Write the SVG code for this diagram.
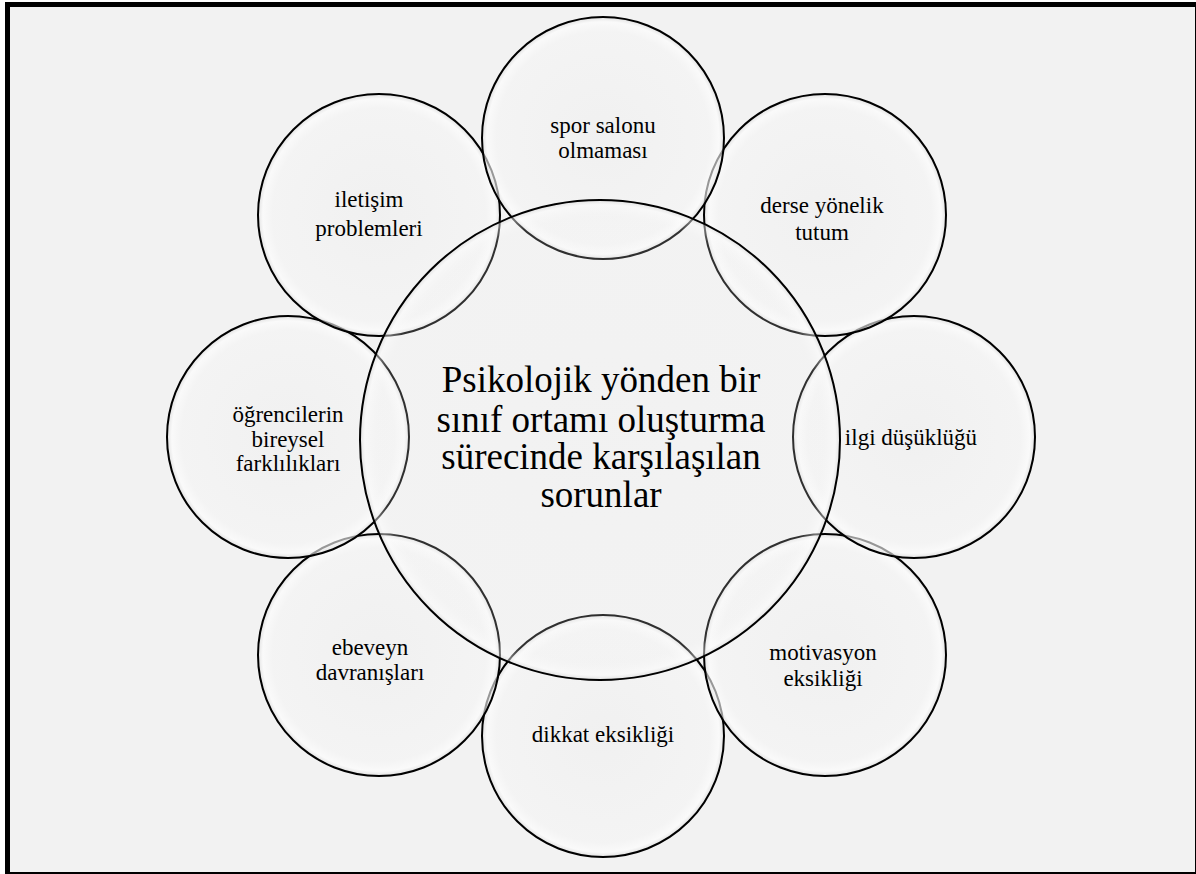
<svg xmlns="http://www.w3.org/2000/svg" width="1196" height="874" viewBox="0 0 1196 874">
<defs>
<radialGradient id="g">
<stop offset="0" stop-color="#efefef" stop-opacity="0.55"/>
<stop offset="0.88" stop-color="#f5f5f5" stop-opacity="0.55"/>
<stop offset="0.96" stop-color="#ffffff" stop-opacity="0.6"/>
<stop offset="0.99" stop-color="#e2e2e2" stop-opacity="0.65"/>
<stop offset="1" stop-color="#c8c8c8" stop-opacity="0.65"/>
</radialGradient>
<radialGradient id="gc">
<stop offset="0" stop-color="#f0f0f0" stop-opacity="0.15"/>
<stop offset="0.93" stop-color="#f5f5f5" stop-opacity="0.2"/>
<stop offset="0.98" stop-color="#ffffff" stop-opacity="0.45"/>
<stop offset="0.995" stop-color="#dddddd" stop-opacity="0.5"/>
<stop offset="1" stop-color="#c8c8c8" stop-opacity="0.5"/>
</radialGradient>
<style>
.c{fill:url(#g);stroke:#000;stroke-width:2}
.cc{fill:url(#gc);stroke:#000;stroke-width:2}
.t{font-family:"Liberation Serif","Times New Roman",serif;font-size:23px;fill:#000;text-anchor:middle}
.m{font-family:"Liberation Serif","Times New Roman",serif;font-size:37px;fill:#000;text-anchor:middle}
</style>
</defs>
<rect x="7.5" y="4.5" width="1190" height="870" fill="#f2f2f2" stroke="#000" stroke-width="5"/>
<g id="n-dikkat"><circle class="c" cx="603" cy="736" r="121"/><text class="t" x="603" y="742">dikkat eksikliği</text></g>
<g id="n-ebeveyn"><circle class="c" cx="379" cy="655" r="121"/><text class="t" x="370" y="655">ebeveyn</text><text class="t" x="370" y="680">davranışları</text></g>
<g id="n-motivasyon"><circle class="c" cx="825" cy="655" r="121"/><text class="t" x="823" y="660">motivasyon</text><text class="t" x="823" y="686">eksikliği</text></g>
<g id="n-ogrenciler"><circle class="c" cx="288" cy="437" r="121"/><text class="t" x="288" y="422">öğrencilerin</text><text class="t" x="288" y="447">bireysel</text><text class="t" x="288" y="471">farklılıkları</text></g>
<g id="n-ilgi"><circle class="c" cx="914" cy="437" r="121"/><text class="t" x="911" y="445">ilgi düşüklüğü</text></g>
<g id="n-iletisim"><circle class="c" cx="379" cy="215" r="121"/><text class="t" x="369" y="207">iletişim</text><text class="t" x="369" y="236">problemleri</text></g>
<g id="n-derse"><circle class="c" cx="825" cy="215" r="121"/><text class="t" x="822" y="213">derse yönelik</text><text class="t" x="822" y="240">tutum</text></g>
<g id="n-spor"><circle class="c" cx="603" cy="138" r="121"/><text class="t" x="603" y="133">spor salonu</text><text class="t" x="603" y="158">olmaması</text></g>
<g id="n-center"><circle class="cc" cx="600" cy="440" r="240"/><text class="m" x="601" y="392">Psikolojik yönden bir</text><text class="m" x="601" y="432">sınıf ortamı oluşturma</text><text class="m" x="601" y="469">sürecinde karşılaşılan</text><text class="m" x="601" y="507">sorunlar</text></g>
<g id="connectors"/>
</svg>
